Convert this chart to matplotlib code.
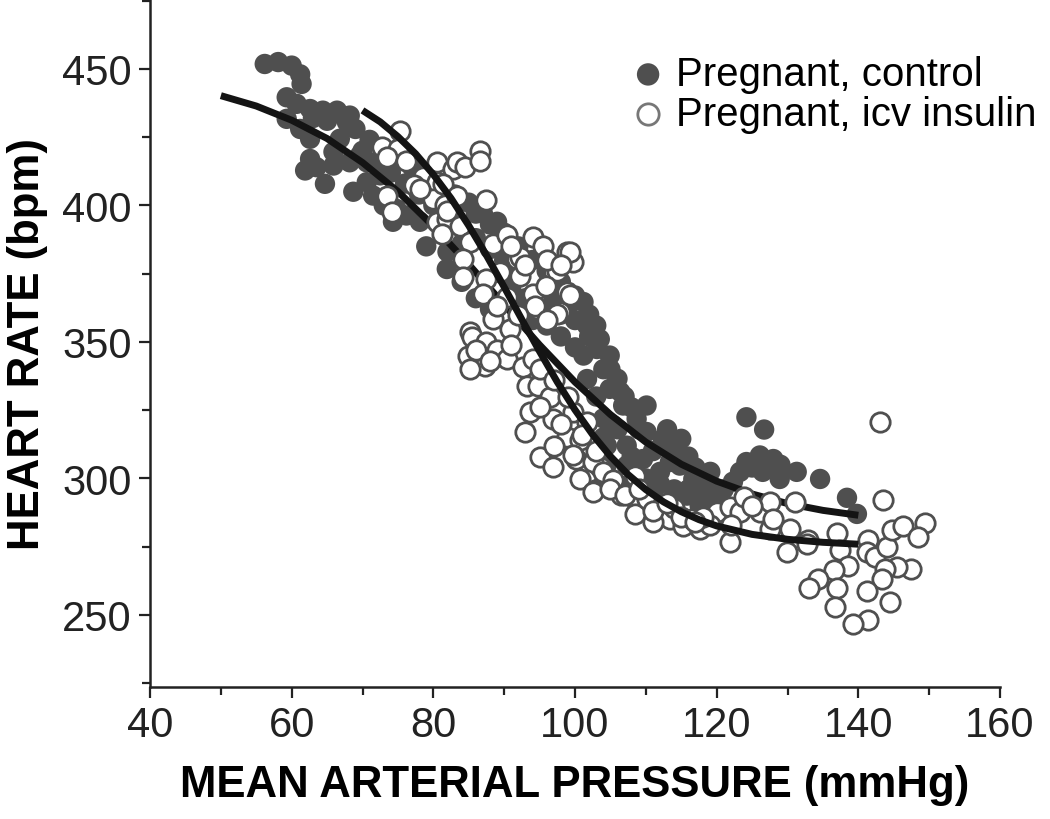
import numpy as np
import matplotlib
matplotlib.use('Agg')
import matplotlib.pyplot as plt
from matplotlib.ticker import MultipleLocator

plt.rcParams['font.family'] = ['Liberation Sans', 'DejaVu Sans']

# pregnant, control (filled)
ctrl_map = [56.2, 58.1, 60.0, 61.2, 61.4, 59.3, 60.7, 62.6, 64.4, 66.4, 68.2, 67.8, 59.3, 61.2,
            62.6, 66.8, 65.9, 62.6, 61.9, 63.5, 64.7, 65.9, 68.2, 69.6, 70.6, 68.7, 70.6, 72.5,
            71.5, 73.0, 74.8, 76.2, 78.1, 74.3,
            70.0, 72.0, 74.0, 76.0, 78.0, 80.0, 82.0, 84.0, 79.0, 82.0, 84.0, 86.0, 88.0, 86.0,
            88.0, 90.0, 92.0, 91.0, 93.0, 95.0, 96.0, 97.0, 99.0, 101.7, 103.1, 101.2, 104.0,
            101.7, 104.9, 98.0, 96.0, 94.0, 100.0, 102.0, 100.0, 98.0, 103.0, 104.0, 104.0,
            104.5, 104.0, 103.0, 104.9, 106.4, 103.5, 101.2, 106.0, 84.0, 86.0, 88.0, 81.9,
            106.8, 110.1, 108.7, 105.4, 104.5, 107.3, 110.1, 112.4, 115.0, 113.8, 109.6, 107.3,
            112.0, 114.8, 116.7, 118.1, 115.8, 111.0, 107.3, 119.1, 113.4, 124.2, 126.7, 124.2,
            126.1, 128.0, 123.3, 126.5, 131.3, 122.3, 128.9, 134.6, 118.6, 117.6, 138.4, 139.8,
            63.0, 65.0, 69.0, 71.0, 73.0, 75.0, 77.0, 79.0, 81.0, 83.0, 85.0, 87.0, 89.0, 90.0,
            92.0, 94.0, 96.0, 98.0, 100.0, 102.0, 103.0, 105.0, 107.0, 108.0, 109.0, 111.0,
            113.0, 116.0, 117.0, 119.0, 121.0, 120.0, 110.0, 106.0, 108.0, 112.0, 114.0, 116.0,
            125.0, 127.0, 129.0]
ctrl_hr = [451.8, 452.5, 451.2, 448.0, 444.5, 439.6, 437.2, 435.3, 434.7, 434.7, 432.9, 430.5, 431.7, 428.0,
           424.4, 424.4, 419.6, 417.0, 412.8, 414.0, 407.9, 414.6, 415.8, 418.2, 415.8, 405.0, 408.5, 411.0,
           403.6, 400.0, 398.7, 396.3, 394.0, 394.0,
           420.0, 416.0, 412.0, 408.0, 404.0, 400.0, 396.0, 392.0, 385.0, 383.0, 386.0, 388.0, 393.0, 397.0,
           384.0, 380.0, 376.0, 370.0, 366.0, 362.0, 370.0, 366.0, 363.3, 356.0, 347.4, 345.0, 340.0,
           336.4, 332.8, 352.0, 356.0, 358.0, 348.0, 352.0, 358.0, 360.0, 330.0, 322.0, 315.0,
           305.0, 298.0, 296.0, 345.0, 331.7, 351.0, 364.6, 336.5, 372.0, 366.0, 362.0, 376.7,
           326.7, 326.7, 321.8, 319.4, 312.0, 312.0, 317.0, 314.5, 314.5, 310.8, 307.1, 304.7,
           302.4, 304.7, 299.8, 293.7, 293.7, 295.0, 297.4, 302.4, 306.0, 322.4, 317.9, 306.0,
           308.4, 307.1, 302.4, 302.4, 302.4, 298.8, 299.8, 299.8, 300.5, 290.0, 292.9, 287.0,
           432.0, 431.0, 428.0, 424.0, 420.0, 418.0, 414.0, 411.0, 407.0, 404.0, 401.0, 397.0, 394.0, 390.0,
           385.0, 380.0, 376.0, 372.0, 367.0, 360.0, 356.0, 340.0, 330.0, 326.0, 318.0, 310.0,
           318.0, 308.0, 304.0, 297.0, 296.0, 292.0, 300.0, 318.0, 308.0, 298.0, 296.0, 296.0,
           304.0, 304.0, 305.0]

# pregnant, icv insulin (open)
ins_map = [72.7, 75.3, 75.0, 73.4, 76.2, 80.5, 82.8, 78.6, 77.2, 80.5, 73.4, 74.1, 80.0, 81.6, 80.5, 82.0,
           83.3, 84.5, 86.6, 86.6, 87.5, 78.1, 81.4, 83.3, 81.9, 81.2, 83.8, 85.2, 84.2, 88.4, 90.4,
           94.1, 95.5, 98.8, 99.7, 97.0, 91.8, 92.2, 89.4, 87.5, 84.2, 87.0, 90.4, 94.1, 98.8, 97.9,
           94.6, 88.4, 85.2, 90.8,
           92.2, 97.4, 99.3, 95.9, 99.3, 94.4, 97.4, 85.4, 84.9, 87.5, 89.0, 87.3, 85.2, 90.4, 92.7,
           94.1, 93.2, 94.8, 96.5, 93.6, 96.9, 99.7, 101.7, 92.9, 98.8, 100.7, 95.1, 96.9, 100.2, 103.5,
           99.7, 102.6, 104.0, 100.7, 102.6, 105.4, 108.5, 108.7, 108.5, 110.1, 112.4, 113.4, 115.3,
           117.7, 120.0, 121.9, 123.3, 123.8, 126.1, 127.5, 131.0, 121.9, 127.5, 130.4, 132.9, 129.9,
           106.5, 111.0, 114.0, 116.5, 119.0, 118.0,
           143.1, 143.5, 137.0, 137.4, 141.4, 141.2, 142.4, 144.0, 144.7, 146.3, 149.4, 148.4, 147.5,
           145.4, 143.8, 143.3, 138.6, 136.6, 134.3, 133.0, 137.0, 141.2, 144.4, 136.7, 141.4, 139.3,
           132.7,
           91.0, 93.0, 96.0, 98.0, 89.0, 92.0, 96.0, 86.0, 88.0, 91.0, 95.0, 97.0, 99.0, 95.0, 98.0,
           101.0, 103.0, 97.0, 105.0, 107.0, 109.0, 111.0, 113.0, 115.0, 117.0, 122.0, 125.0, 128.0]
ins_hr = [421.3, 427.4, 420.7, 417.7, 416.4, 415.8, 413.4, 410.4, 407.3, 408.5, 403.6, 397.5, 402.4, 400.0, 393.8, 395.0,
          415.8, 414.0, 420.0, 416.4, 401.8, 406.0, 407.9, 403.6, 398.1, 389.6, 392.6, 386.5, 380.4, 385.9, 389.0,
          388.5, 385.3, 382.9, 379.3, 375.6, 380.4, 374.3, 375.6, 373.1, 373.8, 367.6, 366.5, 367.6, 368.3, 361.0,
          362.0, 358.4, 353.6, 354.8,
          381.0, 376.1, 383.0, 370.6, 367.0, 363.3, 360.3, 351.7, 345.0, 350.0, 346.9, 341.3, 340.1, 343.8, 340.8,
          343.8, 334.0, 334.0, 330.0, 324.5, 321.8, 324.5, 320.7, 317.0, 315.2, 313.9, 307.8, 304.2, 307.1, 304.2,
          308.4, 306.0, 302.4, 299.8, 295.0, 299.3, 301.0, 291.4, 287.0, 292.5, 290.7, 285.2, 282.7,
          281.5, 287.7, 289.6, 287.7, 293.2, 287.7, 291.4, 291.4, 276.7, 281.5, 281.5, 277.3, 273.0,
          294.0, 284.0, 289.0, 285.0, 283.0, 286.0,
          320.6, 292.0, 280.0, 273.6, 277.5, 273.0, 271.3, 275.0, 281.0, 282.7, 283.7, 278.6, 266.8,
          267.6, 266.9, 263.2, 268.0, 266.3, 263.2, 260.0, 260.0, 258.8, 254.9, 252.9, 248.0, 246.7,
          276.0,
          385.0, 378.0, 380.0, 378.0, 363.0, 360.0, 358.0, 347.0, 343.0, 349.0, 340.0, 336.0, 330.0, 326.0, 320.0,
          316.0, 310.0, 312.0, 296.0, 294.0, 296.0, 288.0, 291.0, 286.0, 284.0, 283.0, 290.0, 285.0]

# fitted curves
fit_ctrl_x = [50, 55, 60, 65, 70, 75, 80, 85, 90, 95, 100, 105, 110, 115, 120, 125, 130, 135, 140]
fit_ctrl_y = [440.2, 436.4, 431.2, 424.5, 415.7, 405.1, 392.4, 378.4, 363.6, 348.9, 335.3, 323.4,
              313.3, 305.2, 299.0, 294.3, 290.8, 288.3, 286.5]
fit_ins_x = [70, 72.5, 75, 77.5, 80, 82.5, 85, 87.5, 90, 92.5, 95, 97.5, 100, 102.5, 105, 107.5,
             110, 112.5, 115, 117.5, 120, 125, 130, 135, 140]
fit_ins_y = [434.8, 430.6, 425.2, 418.9, 411.3, 402.6, 392.6, 381.7, 370.1, 358.2, 346.5, 335.3,
             325.1, 316.0, 308.1, 301.4, 295.9, 291.4, 287.8, 284.9, 282.6, 279.5, 277.7, 276.6, 275.9]

gray = '#4f4f4f'

fig = plt.figure(figsize=(10.5, 8.2), dpi=100)
ax = fig.add_axes([150/1050, 1-688/820, 850/1050, 688/820])

ax.scatter(ctrl_map, ctrl_hr, s=215, c=gray, edgecolors='none', zorder=2,
           label='Pregnant, control')
ax.plot(fit_ctrl_x, fit_ctrl_y, color='#141414', lw=5, solid_capstyle='butt', zorder=3)
ax.scatter(ins_map, ins_hr, s=195, facecolors='white', edgecolors=gray, linewidths=2.0,
           zorder=4, label='Pregnant, icv insulin')
ax.plot(fit_ins_x, fit_ins_y, color='#141414', lw=5, solid_capstyle='butt', zorder=5)

ax.set_xlim(40, 160)
ax.set_ylim(223.6, 475.6)
ax.xaxis.set_major_locator(MultipleLocator(20))
ax.xaxis.set_minor_locator(MultipleLocator(10))
ax.yaxis.set_major_locator(MultipleLocator(50))
ax.yaxis.set_minor_locator(MultipleLocator(25))
for s in ['top', 'right']:
    ax.spines[s].set_visible(False)
for s in ['left', 'bottom']:
    ax.spines[s].set_linewidth(1.8)
    ax.spines[s].set_color('#222222')
ax.tick_params(which='major', length=8, width=1.6, labelsize=30, pad=5, colors='#222222')
ax.tick_params(which='minor', length=6, width=1.6, colors='#222222')

ax.set_xlabel('MEAN ARTERIAL PRESSURE (mmHg)', fontsize=31.5, fontweight='bold', labelpad=14)
ax.set_ylabel('HEART RATE (bpm)', fontsize=31.5, fontweight='bold', labelpad=10)

leg = ax.legend(loc='upper left', bbox_to_anchor=(634/1050, 1-56/820),
                bbox_transform=fig.transFigure, frameon=False, fontsize=29,
                borderpad=0, borderaxespad=0, handlelength=0.7, handletextpad=0.35,
                labelspacing=0.05, scatterpoints=1, markerscale=1.1)
leg.legend_handles[1].set_edgecolor('#777777')

fig.savefig('out.png', dpi=100)
